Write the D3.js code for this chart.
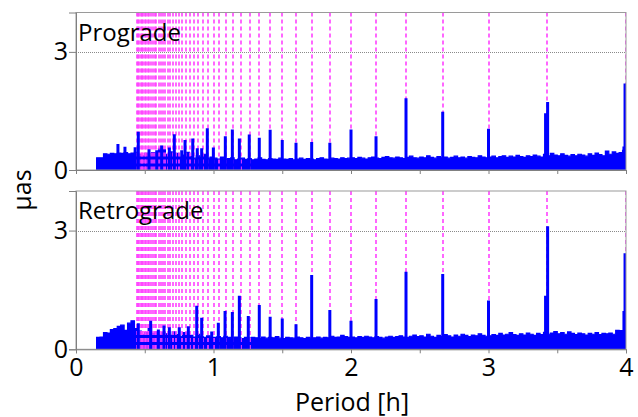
<!DOCTYPE html>
<html>
<head>
<meta charset="utf-8">
<script src="https://cdn.jsdelivr.net/npm/d3@7"></script>
<style>
  html, body { margin: 0; padding: 0; background: #fff; }
  svg { display: block; }
  text { font-family: "Open Sans", "Noto Sans", sans-serif; fill: #000; }
</style>
</head>
<body>
<svg id="chart" width="638" height="417"></svg>
<script>
// ---------------- DATA ----------------
const panelNames = ["Prograde", "Retrograde"];
const xTickValues = [0, 0.5, 1, 1.5, 2, 2.5, 3, 3.5, 4];
const xTickLabels = ["0", "", "1", "", "2", "", "3", "", "4"];
const yTickValues = [0, 3];
const yTickLabels = ["0", "3"];
// harmonic numbers n of the marked periods (24 h / n)
const harmonics = [6,7,8,9,10,11,12,13,14,15,16,17,18,19,20,21,22,23,24,25,26,27,28,29,30,
                   31,32,33,34,35,36,37,38,39,40,41,42,43,44,45,46,47,48,49,50,51,52,53,54];
// noise floor sampled from 0.15 h every 0.025 h
const floorStart = 0.15, floorStep = 0.025;
const progradeFloor = [
  0.31,0.31,
  0.41,0.40,0.42,0.41,0.43,
  0.42,0.44,0.41,0.43,0.45,
  0.40,0.36,0.42,0.35,0.44,0.38,0.55,0.52,0.40,0.46,0.36,0.42,0.33,0.38,0.45,0.34,0.30,0.36,0.32,0.40,0.30,0.33,
  0.30,0.28,0.33,0.27,0.29,0.31,0.26,0.28,0.30,0.27,
  0.29,0.26,0.28,0.31,0.27,0.26,0.29,0.28,0.27,0.30,
  0.28,0.27,0.29,0.26,0.28,0.30,0.27,0.29,0.28,0.26,
  0.29,0.31,0.28,0.27,0.30,0.29,0.28,0.31,0.29,0.30,
  0.31,0.29,0.32,0.30,0.28,0.31,0.33,0.30,0.29,0.32,
  0.34,0.31,0.30,0.33,0.31,0.29,0.32,0.35,0.31,0.30,
  0.33,0.31,0.36,0.32,0.30,0.34,0.31,0.33,0.30,0.32,
  0.35,0.31,0.33,0.30,0.34,0.32,0.31,0.36,0.33,0.31,
  0.33,0.35,0.31,0.34,0.36,0.32,0.35,0.33,0.37,0.34,
  0.32,0.36,0.34,0.38,0.35,0.33,0.40,0.36,0.42,0.38,
  0.36,0.41,0.37,0.35,0.39,0.36,0.40,0.38,0.35,0.41,
  0.37,0.43,0.39,0.36,0.48,0.40,0.46,0.42,0.44,0.50,0.45
];
const retrogradeFloor = [
  0.30,0.31,
  0.42,0.41,0.50,0.52,0.58,
  0.61,0.48,0.66,0.72,0.52,
  0.46,0.37,0.42,0.52,0.40,0.44,0.36,0.42,0.39,0.35,0.44,0.37,0.33,0.42,0.36,0.35,0.31,0.38,0.33,0.30,0.34,0.30,
  0.30,0.32,0.29,0.33,0.30,0.28,0.31,0.29,0.27,0.30,
  0.28,0.30,0.29,0.27,0.31,0.28,0.30,0.29,0.32,0.28,
  0.27,0.30,0.29,0.28,0.31,0.29,0.27,0.30,0.28,0.29,
  0.31,0.28,0.30,0.29,0.33,0.30,0.31,0.35,0.32,0.30,
  0.31,0.29,0.32,0.30,0.33,0.31,0.29,0.32,0.30,0.28,
  0.31,0.33,0.30,0.32,0.34,0.31,0.30,0.33,0.36,0.32,
  0.34,0.31,0.38,0.33,0.30,0.35,0.32,0.37,0.34,0.31,
  0.36,0.33,0.38,0.35,0.32,0.36,0.34,0.39,0.35,0.33,
  0.34,0.37,0.35,0.40,0.36,0.38,0.42,0.37,0.35,0.39,
  0.36,0.41,0.38,0.35,0.40,0.37,0.43,0.38,0.41,0.45,
  0.39,0.42,0.38,0.44,0.40,0.37,0.41,0.39,0.36,0.40,
  0.38,0.42,0.37,0.40,0.39,0.41,0.38,0.48,0.47,0.45,0.50
];
// spectral peaks: [period h, amplitude µas]
const progradePeaks = [
  [0.305,0.66],[0.356,0.59],[0.43,0.58],[0.453,0.97],[0.531,0.53],[0.587,0.50],[0.623,0.62],
  [0.679,0.57],[0.715,0.91],[0.769,0.50],[0.793,0.76],[0.849,0.80],[0.882,0.55],[0.914,0.55],
  [0.955,1.06],[0.999,0.57],[1.086,0.86],[1.137,1.03],[1.188,0.80],[1.26,0.90],[1.333,0.82],
  [1.412,1.02],[1.5,0.76],[1.6,0.69],[1.714,0.71],[1.846,0.69],[2.0,1.03],[2.182,0.86],
  [2.4,1.82],[2.667,1.48],[3.0,1.05],[3.415,1.44],[3.43,1.73],[3.985,0.60],[3.993,2.2]
];
const retrogradePeaks = [
  [0.453,0.66],[0.543,0.72],[0.599,0.50],[0.64,0.60],[0.679,0.56],[0.751,0.56],[0.817,0.58],
  [0.878,1.10],[0.914,0.80],[0.987,0.45],[1.035,0.67],[1.084,0.97],[1.137,0.94],[1.188,1.35],
  [1.253,0.84],[1.333,1.12],[1.412,0.82],[1.5,0.78],[1.6,0.63],[1.714,1.88],[1.846,0.99],
  [2.0,0.72],[2.182,1.27],[2.4,1.96],[2.667,1.90],[3.0,1.23],[3.415,1.35],[3.43,3.11],
  [3.985,0.97],[3.993,2.43]
];

// ---------------- DRAW ----------------
const svg = d3.select("#chart");
const x = d3.scaleLinear().domain([0, 4]).range([76, 626]);
const snap = v => Math.round(v) + 0.5;
const panels = [
  { name: panelNames[0], floor: progradeFloor, peaks: progradePeaks, top: 12.5, bottom: 170 },
  { name: panelNames[1], floor: retrogradeFloor, peaks: retrogradePeaks, top: 191, bottom: 349.3 }
];

panels.forEach((p, pi) => {
  const y = d3.scaleLinear().domain([0, 4]).range([p.bottom, p.top]);
  const g = svg.append("g");
  const clipId = "clip" + pi;
  svg.append("clipPath").attr("id", clipId).append("rect")
    .attr("x", x(0)).attr("y", p.top).attr("width", x(4) - x(0)).attr("height", p.bottom - p.top);

  // gridline at 3
  g.append("line")
    .attr("x1", x(0)).attr("x2", x(4)).attr("y1", snap(y(3))).attr("y2", snap(y(3)))
    .attr("stroke", "#8a8a8a").attr("stroke-width", 1).attr("stroke-dasharray", "1,1");

  const plot = g.append("g").attr("clip-path", `url(#${clipId})`);
  const floorData = p.floor.map((v, i) => [floorStart + i * floorStep, v]);
  const area = d3.area().x(d => x(d[0])).y0(y(0)).y1(d => y(d[1])).curve(d3.curveStepAfter);
  plot.append("path").datum(floorData).attr("d", area)
    .attr("fill", "#0000ff").attr("stroke", "#0000ff").attr("stroke-width", 1.2);

  // harmonic lines
  plot.selectAll("line.harm").data(harmonics).join("line").attr("class", "harm")
    .attr("x1", n => Math.round(x(24 / n))).attr("x2", n => Math.round(x(24 / n)))
    .attr("y1", p.top).attr("y2", p.bottom)
    .attr("stroke", "#ff40ff").attr("stroke-width", 1.6)
    .attr("stroke-dasharray", "4,3");

  // peaks
  plot.selectAll("line.peak").data(p.peaks).join("line").attr("class", "peak")
    .attr("x1", d => x(d[0])).attr("x2", d => x(d[0]))
    .attr("y1", y(0)).attr("y2", d => y(d[1]))
    .attr("stroke", "#0000ff").attr("stroke-width", 3);

  // frame
  g.append("rect").attr("x", x(0)).attr("y", p.top)
    .attr("width", x(4) - x(0)).attr("height", p.bottom - p.top)
    .attr("fill", "none").attr("stroke", "#9a9a9a").attr("stroke-width", 1);

  // x axis ticks
  const xa = d3.axisBottom(x).tickValues(xTickValues).tickSize(4)
    .tickFormat((d, i) => pi === 1 ? xTickLabels[i] : "");
  const xg = g.append("g").attr("transform", `translate(0,${p.bottom})`).call(xa);
  xg.select(".domain").attr("stroke", "#808080");
  xg.selectAll(".tick line").attr("stroke", "#808080");
  xg.selectAll(".tick text").attr("font-size", 25).attr("dy", "0.8em")
    .attr("font-family", '"Open Sans", sans-serif');

  // y axis
  const ya = d3.axisLeft(y).tickValues(yTickValues).tickSize(7)
    .tickFormat((d, i) => yTickLabels[i]);
  const yg = g.append("g").attr("transform", `translate(${x(0)},0)`).call(ya);
  yg.select(".domain").attr("stroke", "#808080");
  yg.selectAll(".tick line").attr("stroke", "#808080");
  yg.selectAll(".tick text").attr("font-size", 25).attr("x", -8)
    .attr("font-family", '"Open Sans", sans-serif');

  // panel label
  g.append("text").attr("x", 78).attr("y", p.top + 28)
    .attr("font-size", 24).text(p.name);
});

svg.append("text").attr("x", 352).attr("y", 411).attr("text-anchor", "middle")
  .attr("font-size", 25).text("Period [h]");
svg.append("text").attr("transform", "translate(31,190) rotate(-90)")
  .attr("text-anchor", "middle").attr("font-size", 25).text("µas");
</script>
</body>
</html>
